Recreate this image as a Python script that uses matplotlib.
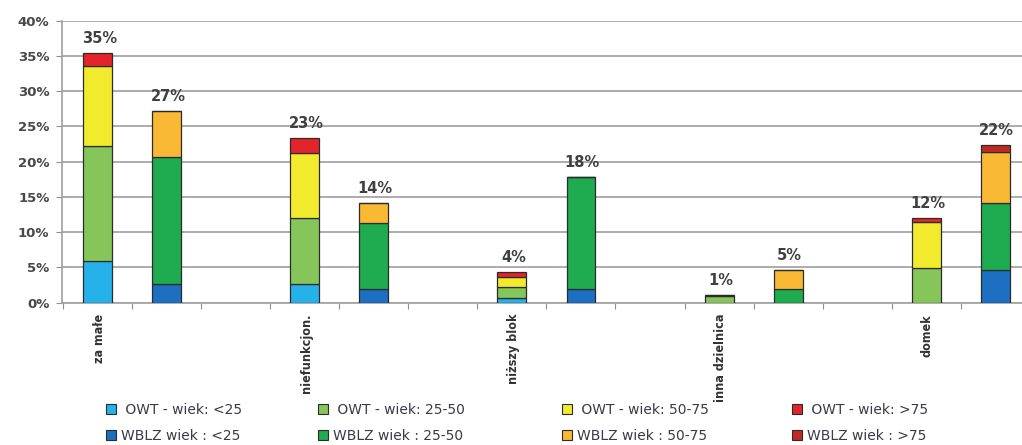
import matplotlib
matplotlib.use("Agg")
import matplotlib.pyplot as plt
from matplotlib.patches import Patch
from matplotlib.transforms import blended_transform_factory

# Categories and age groups
categories = ["za małe", "niefunkcjon.", "niższy blok", "inna dzielnica", "domek"]
age_groups = ["<25", "25-50", "50-75", ">75"]

# Shares (%) per age group, OWT respondents
owt_lt25 = [5.9, 2.7, 0.6, 0.0, 0.0]
owt_25_50 = [16.3, 9.3, 1.6, 0.9, 4.9]
owt_50_75 = [11.4, 9.2, 1.5, 0.2, 6.5]
owt_gt75 = [1.8, 2.2, 0.6, 0.0, 0.6]

# Shares (%) per age group, WBLZ respondents
wblz_lt25 = [2.7, 1.9, 1.9, 0.0, 4.6]
wblz_25_50 = [17.9, 9.4, 15.9, 1.9, 9.5]
wblz_50_75 = [6.6, 2.8, 0.0, 2.8, 7.3]
wblz_gt75 = [0.0, 0.0, 0.0, 0.0, 1.0]

# Rounded totals shown above the bars
owt_totals = [35, 23, 4, 1, 12]
wblz_totals = [27, 14, 18, 5, 22]

owt_labels = [" OWT - wiek: <25", " OWT - wiek: 25-50", " OWT - wiek: 50-75", " OWT - wiek: >75"]
wblz_labels = ["WBLZ wiek : <25", "WBLZ wiek : 25-50", "WBLZ wiek : 50-75", "WBLZ wiek : >75"]

owt_colors = ["#25b2ea", "#86c55a", "#f2ea2c", "#e3242b"]
wblz_colors = ["#1d6fc2", "#1fab4f", "#f9b934", "#c02a25"]

owt_series = [owt_lt25, owt_25_50, owt_50_75, owt_gt75]
wblz_series = [wblz_lt25, wblz_25_50, wblz_50_75, wblz_gt75]

fig = plt.figure(figsize=(10.22, 4.45), dpi=100)
ax = fig.add_axes([0.0607, 0.3198, 0.9467, 0.6337])

owt_x = [3 * i for i in range(len(categories))]
wblz_x = [3 * i + 1 for i in range(len(categories))]
bar_w = 0.42
edge = "#2b2b2b"

def stack(xs, series, colors):
    bottom = [0.0] * len(xs)
    for vals, col in zip(series, colors):
        ax.bar(xs, vals, bar_w, bottom=bottom, color=col,
               edgecolor=edge, linewidth=0.9, zorder=3)
        bottom = [b + v for b, v in zip(bottom, vals)]
    return bottom

owt_top = stack(owt_x, owt_series, owt_colors)
wblz_top = stack(wblz_x, wblz_series, wblz_colors)

for xs, tops, tots in ((owt_x, owt_top, owt_totals), (wblz_x, wblz_top, wblz_totals)):
    for x, t, lab in zip(xs, tops, tots):
        ax.annotate(f"{lab}%", (x, t), xytext=(1, 5), textcoords="offset points",
                    ha="center", va="bottom", fontsize=10.5, fontweight="bold",
                    color="#404040", zorder=4)

ax.set_xlim(-0.52, 13.5)
ax.set_ylim(0, 40)
ax.set_yticks(range(0, 41, 5))
ax.set_yticklabels([f"{v}%" for v in range(0, 41, 5)], fontsize=9.5,
                   fontweight="bold", color="#484848")
ax.yaxis.grid(True, color="#a6a6a6", linewidth=1.3, zorder=0)
ax.set_axisbelow(True)

ax.set_xticks([i - 0.5 for i in range(15)])
ax.set_xticklabels([])
ax.tick_params(axis="x", length=4, color="#909090", direction="out")
ax.tick_params(axis="y", length=4, color="#909090", direction="out", pad=5)

for side in ("top", "right"):
    ax.spines[side].set_visible(False)
ax.spines["left"].set_color("#a0a0a0")
ax.spines["bottom"].set_color("#a0a0a0")
ax.spines["left"].set_linewidth(1.2)
ax.spines["bottom"].set_linewidth(1.2)

trans = blended_transform_factory(ax.transData, ax.transAxes)
for x, name in zip(owt_x, categories):
    ax.annotate(name, (x, 0), xycoords=trans, xytext=(1, -8),
                textcoords="offset points", rotation=90, ha="center", va="top",
                fontsize=9, fontweight="bold", fontstretch="condensed",
                color="#333333", family="DejaVu Sans")

legend_x = [106, 318, 562, 792]
for lx, i in zip(legend_x, range(4)):
    handles = [Patch(facecolor=owt_colors[i], edgecolor=edge, linewidth=0.8),
               Patch(facecolor=wblz_colors[i], edgecolor=edge, linewidth=0.8)]
    fig.legend(handles, [owt_labels[i], wblz_labels[i]],
               loc="upper left", bbox_to_anchor=(lx / 1022, 1 - 403 / 445),
               frameon=False, fontsize=10, handlelength=0.75, handleheight=0.75,
               handletextpad=0.3, labelspacing=0.85, borderpad=0,
               borderaxespad=0, labelcolor="#3a3a48")

fig.savefig("out.png", dpi=100)
